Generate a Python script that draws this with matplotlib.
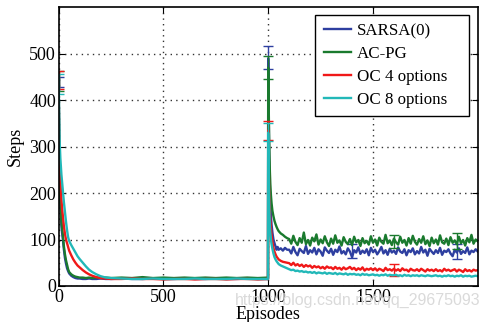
import matplotlib
matplotlib.use("Agg")
import matplotlib.pyplot as plt
import numpy as np

# ---------------- data ----------------
ep_phase1 = [0, 2, 4, 6, 8, 10, 13, 16, 20, 25, 30, 35, 40, 45, 50, 60, 70, 80, 90, 100,
             115, 130, 145, 160, 180, 200, 225, 250, 300, 350, 400, 450, 500, 550, 600,
             650, 700, 750, 800, 850, 900, 950, 999]
ep_phase2_early = [1000, 1002, 1004, 1006, 1008, 1010, 1013, 1016, 1020, 1025, 1030, 1035,
                   1040, 1045, 1050, 1060, 1070, 1080, 1090]
ep_plateau = list(range(1100, 2001, 10))

sarsa_p1 = [445, 330, 260, 210, 175, 155, 130, 115, 100, 78, 60, 48, 38, 32, 27, 22, 19, 17, 16, 16,
            15, 15, 16, 15, 15, 16, 15, 15, 16, 15, 15, 16, 15, 15, 16, 15, 15, 16, 15, 15, 16, 15, 15]
acpg_p1 = [440, 340, 270, 220, 185, 165, 140, 125, 110, 85, 68, 55, 45, 36, 30, 25, 22, 20, 19, 18,
           18, 17, 18, 17, 18, 17, 18, 17, 18, 17, 19, 17, 18, 17, 18, 17, 18, 17, 18, 17, 18, 17, 18]
oc4_p1 = [440, 320, 270, 240, 220, 205, 185, 168, 150, 128, 112, 100, 92, 84, 76, 66, 57, 50, 44, 40,
          34, 29, 25, 22, 19, 17, 16, 15, 15, 16, 15, 15, 14, 15, 15, 14, 15, 15, 14, 15, 15, 14, 15]
oc8_p1 = [440, 370, 320, 295, 275, 260, 240, 225, 205, 180, 158, 138, 120, 105, 97, 88, 80, 72, 64, 58,
          50, 42, 35, 30, 25, 21, 18, 17, 16, 15, 15, 16, 15, 15, 15, 16, 15, 15, 15, 16, 15, 15, 15]

sarsa_p2e = [490, 390, 300, 240, 200, 175, 150, 132, 115, 100, 92, 85, 78, 84, 78, 81, 76, 82, 78]
acpg_p2e = [470, 400, 330, 280, 245, 220, 195, 178, 162, 150, 140, 133, 127, 122, 118, 113, 110, 106, 103]
oc4_p2e = [335, 270, 215, 175, 155, 140, 122, 108, 95, 82, 74, 68, 63, 60, 57, 54, 52, 51, 50]
oc8_p2e = [330, 255, 195, 155, 130, 115, 100, 90, 80, 70, 62, 57, 53, 50, 47, 44, 42, 40, 38]

sarsa_pl = [78, 70, 84, 73, 66, 80, 75, 71, 86, 69,
            77, 72, 82, 68, 79, 74, 65, 83, 76, 71,
            80, 67, 78, 73, 85, 70, 75, 68, 81, 74,
            62, 77, 72, 83, 69, 76, 71, 79, 66, 82,
            73, 78, 68, 75, 84, 70, 77, 67, 80, 72,
            76, 69, 83, 74, 71, 79, 66, 77, 73, 81,
            68, 75, 70, 84, 72, 78, 65, 80, 74, 69,
            77, 71, 82, 67, 76, 73, 79, 70, 64, 78,
            72, 81, 69, 75, 71, 83, 68, 76, 73, 79,
            74]
acpg_pl = [101, 91, 108, 95, 88, 103, 93, 115, 90, 99,
           87, 104, 96, 111, 89, 100, 92, 107, 94, 86,
           102, 91, 109, 93, 98, 87, 105, 95, 90, 101,
           88, 106, 94, 99, 86, 103, 92, 97, 89, 107,
           93, 100, 87, 104, 95, 91, 110, 92, 98, 88,
           102, 94, 89, 106, 93, 99, 87, 103, 91, 108,
           95, 89, 101, 93, 107, 90, 98, 86, 104, 92,
           100, 89, 109, 94, 91, 102, 88, 105, 93, 98,
           90, 106, 92, 99, 87, 103, 94, 110, 91, 100,
           96]
oc4_pl = [49, 45, 50, 44, 47, 43, 46, 41, 45, 42,
          44, 39, 43, 40, 42, 38, 41, 37, 42, 39,
          40, 36, 41, 37, 39, 35, 40, 36, 38, 41,
          36, 39, 34, 38, 35, 40, 33, 37, 35, 38,
          34, 38, 33, 37, 35, 32, 39, 34, 36, 33,
          37, 33, 36, 32, 38, 34, 35, 31, 37, 34,
          33, 36, 32, 37, 34, 31, 36, 33, 35, 32,
          36, 32, 34, 31, 37, 33, 35, 32, 34, 36,
          31, 35, 33, 30, 36, 32, 34, 31, 35, 33,
          34]
oc8_pl = [36, 34, 35, 32, 33, 31, 32, 30, 31, 29,
          30, 28, 30, 27, 29, 28, 27, 29, 26, 28,
          27, 26, 28, 25, 27, 26, 25, 27, 24, 26,
          25, 26, 24, 25, 23, 26, 24, 25, 23, 24,
          25, 23, 24, 22, 24, 23, 25, 22, 24, 23,
          23, 24, 22, 23, 21, 24, 22, 23, 21, 23,
          22, 23, 21, 23, 22, 21, 23, 22, 21, 22,
          23, 21, 22, 20, 22, 21, 23, 21, 22, 20,
          22, 21, 23, 20, 22, 21, 22, 20, 21, 22,
          21]

# error bars (episode, mean, error) read from visible caps
err_sarsa = ([0, 1000, 1400, 1900], [440, 492, 75, 74], [11, 24, 15, 16])
err_acpg = ([0, 1000, 1600, 1900], [441, 470, 95, 97], [21, 25, 14, 17])
err_oc4 = ([0, 1000, 1600], [444, 335, 34], [20, 20, 13])
err_oc8 = ([0, 1000], [435, 332], [21, 20])

labels = ["SARSA(0)", "AC-PG", "OC 4 options", "OC 8 options"]
colors = ["#2e3fa0", "#1a7a2e", "#f01818", "#22b8b8"]

episodes = ep_phase1 + ep_phase2_early + ep_plateau
series = [sarsa_p1 + sarsa_p2e + sarsa_pl,
          acpg_p1 + acpg_p2e + acpg_pl,
          oc4_p1 + oc4_p2e + oc4_pl,
          oc8_p1 + oc8_p2e + oc8_pl]
errs = [err_sarsa, err_acpg, err_oc4, err_oc8]

# ---------------- plot ----------------
plt.rcParams['font.family'] = ['Liberation Serif', 'DejaVu Serif']

fig = plt.figure(figsize=(4.89, 3.22), dpi=100)
ax = fig.add_axes([0.12, 0.112, 0.857, 0.865])

for ys, lab, c, (ex, ey, ee) in zip(series, labels, colors, errs):
    ax.plot(episodes, ys, color=c, lw=1.7, label=lab)
    ax.errorbar(ex, ey, yerr=ee, fmt='none', ecolor=c, elinewidth=1.0, capsize=3.5, capthick=1.0)

ax.set_xlim(0, 2000)
ax.set_ylim(0, 600)
ax.set_xticks([0, 500, 1000, 1500])
ax.set_yticks([0, 100, 200, 300, 400, 500])
ax.grid(True, linestyle=(0, (1, 3)), color='#333333', linewidth=1.0)
ax.tick_params(direction='in', length=4, width=0.8, labelsize=13, pad=2,
               top=True, right=True)
for s in ax.spines.values():
    s.set_linewidth(1.2)
ax.set_xlabel("Episodes", fontsize=13, labelpad=0)
ax.set_ylabel("Steps", fontsize=13, labelpad=4)

leg = ax.legend(loc='upper left', bbox_to_anchor=(0.612, 0.617, 0.367, 0.356),
                mode='expand', borderaxespad=0, fontsize=12.2, frameon=True,
                fancybox=False, edgecolor='black', framealpha=1.0, handlelength=1.6,
                labelspacing=0.4, handletextpad=0.35, borderpad=0.5)
leg.get_frame().set_linewidth(1.0)

fig.text(0.982, 0.068, "https://blog.csdn.net/qq_29675093", ha='right', va='center',
         fontsize=11.5, color='#dadada', family=['Liberation Sans', 'DejaVu Sans'])

fig.savefig("out.png", dpi=100)
